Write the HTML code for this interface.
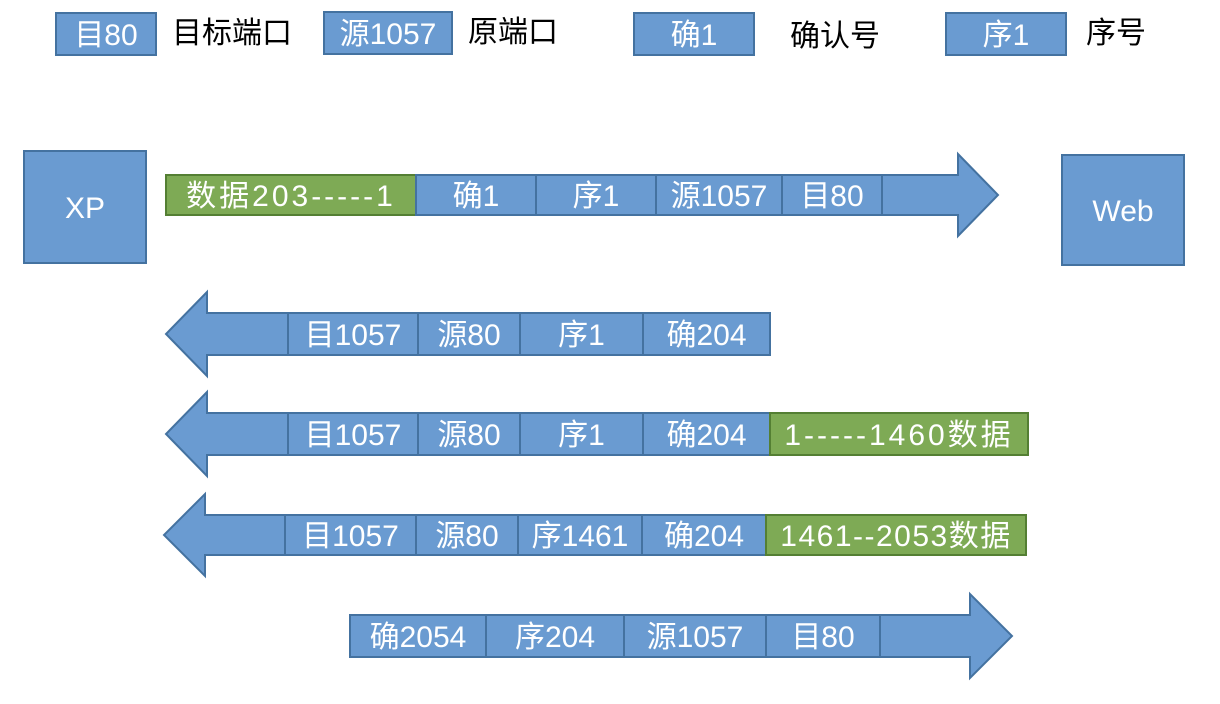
<!DOCTYPE html>
<html><head><meta charset="utf-8"><style>
html,body{margin:0;padding:0;background:#fff;}
svg{display:block;font-family:"Liberation Sans","Noto Sans CJK SC",sans-serif;}
</style></head><body>
<svg width="1220" height="704" viewBox="0 0 1220 704">
<g id="g"></g>
</svg>
<script>
const B='#6a9bd1',BS='#4472a0',G='#7eaa55',GS='#547f33';
const ns='http://www.w3.org/2000/svg';
const root=document.getElementById('g');
function el(tag,attrs,name,parent){const e=document.createElementNS(ns,tag);for(const k in attrs)e.setAttribute(k,attrs[k]);


(parent||root).appendChild(e);return e;}
function box(x1,y1,x2,y2,fill,stroke,label,name,ls){
  const g=el('g',{},name);
  el('rect',{x:x1,y:y1,width:x2-x1,height:y2-y1,fill:fill,stroke:stroke,'stroke-width':2},name+'-rect',g);
  if(label){const a={x:(x1+x2)/2,y:(y1+y2)/2+11,'text-anchor':'middle','font-size':30,fill:'#fff'};
    if(ls)a['letter-spacing']=ls;
    const t=el('text',a,name+'-label',g);t.textContent=label;}
}
function text(x,y,s,name){const t=el('text',{x:x,y:y,'font-size':30,fill:'#000'},name);t.textContent=s;}
box(56,13,156,55,B,BS,'目80','legend-dest-box');text(172,43,'目标端口','legend-dest-text');
box(324,12,452,54,B,BS,'源1057','legend-src-box');text(468,42,'原端口','legend-src-text');
box(634,13,754,55,B,BS,'确1','legend-ack-box');text(790,46,'确认号','legend-ack-text');
box(946,13,1066,55,B,BS,'序1','legend-seq-box');text(1086,43,'序号','legend-seq-text');
box(24,151,146,263,B,BS,'XP','xp-host');
box(1062,155,1184,265,B,BS,'Web','web-host');
function rarrow(x1,yt,yb,hx,tip,ht,hb,name){
  el('polygon',{points:`${x1},${yt} ${hx},${yt} ${hx},${ht} ${tip},${(yt+yb)/2} ${hx},${hb} ${hx},${yb} ${x1},${yb}`,fill:B,stroke:BS,'stroke-width':2},name);
}
function larrow(x2,yt,yb,hx,tip,ht,hb,name){
  el('polygon',{points:`${x2},${yt} ${hx},${yt} ${hx},${ht} ${tip},${(yt+yb)/2} ${hx},${hb} ${hx},${yb} ${x2},${yb}`,fill:B,stroke:BS,'stroke-width':2},name);
}
function cells(xs,yt,yb,labels,greens,name,ls){
  for(let i=0;i<labels.length;i++){
    const g=greens.includes(i);
    box(xs[i],yt,xs[i+1],yb,g?G:B,g?GS:BS,labels[i],name+'-cell-'+i,g?ls:null);
  }
}
rarrow(166,175,215,958,998,154,236,'arrow-1');
cells([166,416,536,656,782,882],175,215,['数据203-----1','确1','序1','源1057','目80'],[0],'arrow-1',3);
larrow(770,313,355,207,166,292,376,'arrow-2');
cells([288,418,520,643,770],313,355,['目1057','源80','序1','确204'],[],'arrow-2');
larrow(770,413,455,207,166,392,476,'arrow-3');
cells([288,418,520,643,770,1028],413,455,['目1057','源80','序1','确204','1-----1460数据'],[4],'arrow-3',3);
larrow(766,515,555,205,164,494,576,'arrow-4');
cells([285,416,518,642,766,1026],515,555,['目1057','源80','序1461','确204','1461--2053数据'],[4],'arrow-4',1.5);
rarrow(350,615,657,970,1012,594,678,'arrow-5');
cells([350,486,624,766,880],615,657,['确2054','序204','源1057','目80'],[],'arrow-5');
</script>
</body></html>
